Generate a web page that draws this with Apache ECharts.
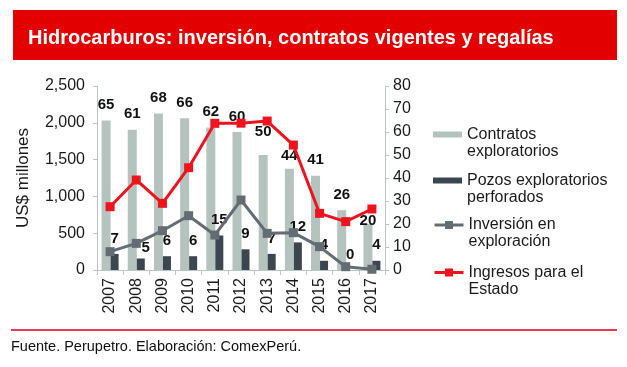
<!DOCTYPE html>
<html>
<head>
<meta charset="utf-8">
<script src="https://cdn.jsdelivr.net/npm/echarts@6/dist/echarts.min.js"></script>
<style>
html,body{margin:0;padding:0;background:#fff;}
#chart{width:627px;height:367px;}
</style>
</head>
<body>
<div id="chart"></div>
<script>
const years = ['2007','2008','2009','2010','2011','2012','2013','2014','2015','2016','2017'];
const contratos = [65, 61, 68, 66, 62, 60, 50, 44, 41, 26, 20];
const pozos = [7, 5, 6, 6, 15, 9, 7, 12, 4, 0, 4];
const inversion = [249, 362, 534, 738, 475, 951, 498, 507, 317, 45, 10];
const ingresos = [860, 1223, 906, 1390, 1993, 1995, 2024, 1698, 770, 657, 829];
const leftTicks = [0, 500, 1000, 1500, 2000, 2500];
const rightTicks = [0, 10, 20, 30, 40, 50, 60, 70, 80];

const names = {
  contratos: 'Contratos\nexploratorios',
  pozos: 'Pozos exploratorios\nperforados',
  inversion: 'Inversión en\nexploración',
  ingresos: 'Ingresos para el\nEstado'
};

// label nudges (style only)
const contratosLabelOffset = {6: [0, -8], 7: [0, 3], 10: [0, 12]};
const pozosLabelOffset = {1: [5, 5]};

const FONT = '"Liberation Sans", Arial, sans-serif';
const axisColor = '#b9c6c2';
const textColor = '#1a1a1a';

function withOffsets(vals, offs) {
  return vals.map((v, i) => offs[i] ? {value: v, label: {offset: offs[i]}} : v);
}

function legendFor(name, top, extra) {
  return Object.assign({
    data: [name],
    left: 433,
    top: top,
    orient: 'vertical',
    padding: 0,
    itemWidth: 29,
    itemHeight: 6,
    icon: 'rect',
    selectedMode: false,
    formatter: n => '\n' + n,
    textStyle: {fontFamily: FONT, fontSize: 16, color: textColor, lineHeight: 17}
  }, extra || {});
}

const chart = echarts.init(document.getElementById('chart'));
chart.setOption({
  animation: false,
  backgroundColor: '#fff',
  textStyle: {fontFamily: FONT},
  title: {
    text: 'Hidrocarburos: inversión, contratos vigentes y regalías',
    left: 28,
    top: 28,
    padding: 0,
    textStyle: {color: '#fff', fontSize: 20, fontWeight: 'bold', fontFamily: FONT}
  },
  graphic: [
    {type: 'rect', z: -1, shape: {x: 13, y: 10, width: 604, height: 50}, style: {fill: '#e20000'}},
    {type: 'line', shape: {x1: 11, y1: 330, x2: 617, y2: 330}, style: {stroke: '#ef3a55', lineWidth: 2}},
    {type: 'text', x: 11, y: 347, style: {text: 'Fuente. Perupetro. Elaboración: ComexPerú.', fill: '#111', font: '14.5px ' + FONT, verticalAlign: 'middle'}}
  ],
  legend: [
    legendFor(names.contratos, 109),
    legendFor(names.pozos, 155),
    legendFor(names.inversion, 199.5, {icon: null, itemHeight: 10, lineStyle: {width: 3}}),
    legendFor(names.ingresos, 247, {icon: null, itemHeight: 10, lineStyle: {width: 3}})
  ],
  grid: {left: 97, right: 242, top: 86, bottom: 97, containLabel: false},
  xAxis: {
    type: 'category',
    data: years,
    axisLine: {lineStyle: {color: axisColor, width: 1}},
    axisTick: {show: true, length: 5, lineStyle: {color: axisColor}},
    axisLabel: {rotate: 90, margin: 8, fontSize: 16, color: textColor, fontFamily: FONT}
  },
  yAxis: [
    {
      type: 'value', min: 0, max: 2500, interval: 500,
      name: 'US$ millones', nameLocation: 'middle', nameGap: 65, nameRotate: 90,
      nameTextStyle: {fontSize: 17, color: textColor, fontFamily: FONT},
      axisLine: {show: true, lineStyle: {color: axisColor}},
      axisTick: {show: true, length: 4, lineStyle: {color: axisColor}},
      splitLine: {show: false},
      axisLabel: {margin: 12, fontSize: 16, color: textColor, fontFamily: FONT,
        formatter: v => leftTicks.includes(v) ? v.toLocaleString('en-US') : ''}
    },
    {
      type: 'value', min: 0, max: 80, interval: 10, position: 'right',
      axisLine: {show: true, lineStyle: {color: axisColor}},
      axisTick: {show: true, length: 4, lineStyle: {color: axisColor}},
      splitLine: {show: false},
      axisLabel: {margin: 8, fontSize: 16, color: textColor, fontFamily: FONT,
        formatter: v => rightTicks.includes(v) ? String(v) : ''}
    }
  ],
  series: [
    {
      name: names.contratos, type: 'bar', yAxisIndex: 1,
      data: withOffsets(contratos, contratosLabelOffset),
      barWidth: 9, barGap: '0%',
      itemStyle: {color: '#b5c3bf'},
      label: {show: true, position: 'top', distance: 8, fontSize: 15, fontWeight: 'bold', color: '#111', fontFamily: FONT},
      z: 2
    },
    {
      name: names.pozos, type: 'bar', yAxisIndex: 1,
      data: withOffsets(pozos, pozosLabelOffset),
      barWidth: 8, barGap: '0%',
      itemStyle: {color: '#3b464e'},
      label: {show: true, position: 'top', distance: 8, fontSize: 15, fontWeight: 'bold', color: '#111', fontFamily: FONT},
      z: 2
    },
    {
      name: names.inversion, type: 'line', yAxisIndex: 0,
      data: inversion,
      symbol: 'rect', symbolSize: 9,
      lineStyle: {color: '#646c73', width: 3},
      itemStyle: {color: '#646c73'},
      z: 3
    },
    {
      name: names.ingresos, type: 'line', yAxisIndex: 0,
      data: ingresos,
      symbol: 'rect', symbolSize: 9,
      lineStyle: {color: '#f0131e', width: 3},
      itemStyle: {color: '#f0131e'},
      z: 3
    }
  ]
});
</script>
</body>
</html>
